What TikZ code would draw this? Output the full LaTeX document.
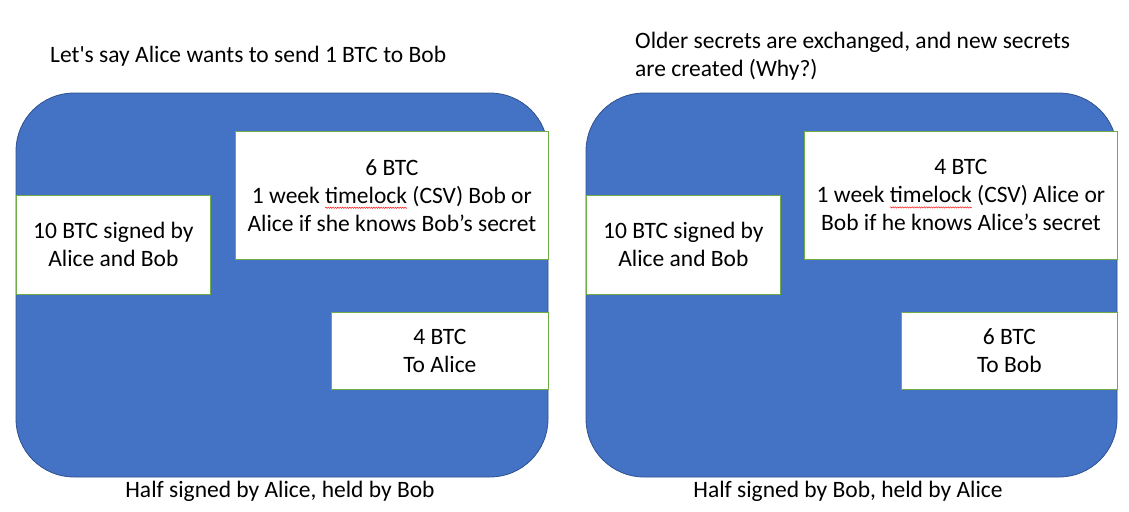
\documentclass[tikz,border=0pt]{standalone}
\usepackage{fontspec}
\setmainfont{Carlito}
\usetikzlibrary{positioning,decorations.pathmorphing}

\definecolor{panelblue}{HTML}{4472C4}
\definecolor{paneledge}{HTML}{2F528F}
\definecolor{boxgreen}{HTML}{70AD47}

% red spell-check wave under a word
\newcommand\redwave[1]{\setbox0\hbox{#1}\rlap{\tikz[overlay,baseline=0pt]
  \draw[red, line width=0.4pt, decorate,
        decoration={snake, amplitude=0.7pt, segment length=2.4pt}]
        (0pt,-4.5pt) -- (\wd0,-4.5pt);}\box0\relax}

\begin{document}
\begin{tikzpicture}[
    x=1pt, y=-1pt,
    font=\fontsize{23.5}{28}\selectfont,
    panel/.style={fill=panelblue, draw=paneledge, line width=0.8pt,
                  rounded corners=58pt},
    txbox/.style={rectangle, fill=white, draw=boxgreen, line width=0.8pt,
                  align=center, anchor=north west, inner sep=0pt},
    note/.style ={align=left, inner sep=0pt, anchor=west}
]
\useasboundingbox (0,0) rectangle (1129,511);

%–––– LEFT PANEL –––––––––––––––––––––––––––––––––––
\node (ltitle) [note] at (50,56) {Let\textquotesingle s say Alice wants to send 1 BTC to Bob};
\draw[panel] (16,93) rectangle (548,477);

\node (lfund) [txbox, minimum width=194pt, minimum height=99pt] at (16,195)
      {10 BTC signed by\\Alice and Bob};
\node (llock) [txbox, minimum width=313pt, minimum height=128pt] at (235,131)
      {6 BTC\\1 week \redwave{timelock} (CSV) Bob or\\Alice if she knows Bob’s secret};
\node (lpay)  [txbox, minimum width=217pt, minimum height=77pt] at (331,312)
      {4 BTC\\To Alice};

\node (lfoot) at (280,491) {Half signed by Alice, held by Bob};

%–––– RIGHT PANEL ––––––––––––––––––––––––––––––––––
\node (rtitle) [note] at (635,56)
      {Older secrets are exchanged, and new secrets\\are created (Why?)};
\draw[panel] (586,93) rectangle (1117,477);

\node (rfund) [txbox, minimum width=194pt, minimum height=99pt] at (586,195)
      {10 BTC signed by\\Alice and Bob};
\node (rlock) [txbox, minimum width=313pt, minimum height=128pt] at (804,131)
      {4 BTC\\1 week \redwave{timelock} (CSV) Alice or\\Bob if he knows Alice’s secret};
\node (rpay)  [txbox, minimum width=216pt, minimum height=77pt] at (901,312)
      {6 BTC\\To Bob};

\node (rfoot) at (848,491) {Half signed by Bob, held by Alice};
\end{tikzpicture}
\end{document}
